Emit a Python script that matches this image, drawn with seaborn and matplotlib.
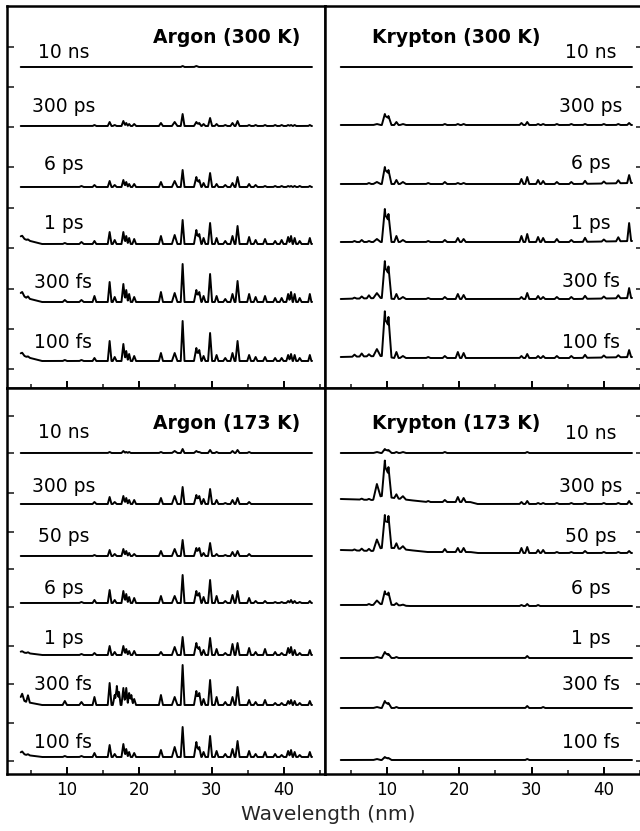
import numpy as np
import pandas as pd
import matplotlib
matplotlib.use("Agg")
import matplotlib.pyplot as plt
from matplotlib.ticker import MultipleLocator
import seaborn as sns

# ---------------- data ----------------
# Argon harmonic line positions (nm) and half-widths (nm)
ar_pos = [3.8, 4.6, 9.7, 12.0, 13.8, 15.9, 16.6, 16.9, 17.2, 17.8, 18.2, 18.6, 18.9, 19.3,
          23.0, 24.9, 26.0, 27.9, 28.3, 28.9, 29.8, 30.7, 31.9, 32.9, 33.6, 35.2, 36.1,
          37.4, 38.8, 39.7, 40.6, 41.0, 41.5, 42.2, 43.6]
ar_wid = [0.3, 0.25, 0.3, 0.3, 0.26, 0.26, 0.26, 0.22, 0.22, 0.26, 0.22, 0.22, 0.22, 0.26,
          0.28, 0.38, 0.26, 0.33, 0.28, 0.25, 0.28, 0.25, 0.28, 0.28, 0.28, 0.26, 0.26,
          0.26, 0.26, 0.26, 0.25, 0.22, 0.22, 0.25, 0.22]

ar300_delays = ["100 fs", "300 fs", "1 ps", "6 ps", "300 ps", "10 ns"]
ar300_heights = [
    [2, 1, 1, 1, 3, 20, 4, 0, 0, 17, 10, 7, 0, 5, 8, 8, 40, 13, 11, 5, 28, 6, 3, 8, 20, 6, 4, 4, 3, 3, 6, 7, 6, 3, 6],
    [3, 2, 2, 2, 6, 20, 5, 0, 0, 18, 12, 8, 0, 5, 10, 9, 38, 12, 10, 6, 28, 6, 3, 8, 21, 8, 5, 6, 4, 4, 8, 10, 8, 4, 8],
    [2, 1, 1, 2, 3, 12, 4, 0, 0, 12, 8, 6, 0, 5, 8, 9, 24, 14, 10, 6, 21, 6, 3, 8, 18, 7, 4, 5, 3, 4, 7, 8, 6, 3, 6],
    [0, 0, 0, 1, 2, 6, 2, 0, 0, 7, 5, 3, 0, 3, 5, 6, 17, 10, 7, 4, 14, 3, 2, 4, 10, 3, 2, 1, 1, 1, 1, 1, 1, 1, 1],
    [0, 0, 0, 0, 1, 4, 1, 0, 0, 5, 3, 2, 0, 2, 3, 4, 12, 4, 3, 2, 8, 2, 1, 3, 5, 1, 1, 1, 1, 1, 1, 1, 1, 0, 1],
    [0, 0, 0, 0, 0, 0, 0, 0, 0, 0, 0, 0, 0, 0, 0, 0, 1, 1, 0, 0, 0, 0, 0, 0, 0, 0, 0, 0, 0, 0, 0, 0, 0, 0, 0],
]
ar300_offsets = [27, 86, 144, 201, 262, 321]
ar300_label_y = [46, 106, 165, 224, 282, 336]
ar_base_x = [3.6, 4.4, 6.5, 44.0]
ar300_base = [[7, 4, 0, 0], [8, 4, 0, 0], [7, 4, 0, 0], [0, 0, 0, 0], [0, 0, 0, 0], [0, 0, 0, 0]]

ar173_delays = ["100 fs", "300 fs", "1 ps", "6 ps", "50 ps", "300 ps", "10 ns"]
ar173_heights = [
    [2, 1, 1, 1, 4, 12, 3, 0, 0, 13, 8, 5, 0, 4, 7, 10, 30, 15, 10, 5, 21, 6, 3, 8, 16, 6, 3, 5, 3, 2, 6, 7, 5, 2, 5],
    [6, 7, 4, 3, 8, 22, 10, 19, 13, 17, 17, 12, 10, 6, 10, 8, 40, 14, 12, 6, 25, 8, 3, 8, 18, 5, 3, 5, 2, 2, 4, 5, 4, 2, 4],
    [1, 1, 0, 1, 2, 9, 3, 0, 0, 9, 6, 4, 0, 4, 3, 8, 18, 12, 8, 5, 17, 6, 2, 11, 12, 7, 3, 6, 3, 2, 7, 8, 5, 2, 5],
    [0, 0, 0, 1, 3, 13, 3, 0, 0, 12, 9, 6, 0, 5, 7, 7, 28, 12, 10, 6, 23, 7, 2, 8, 12, 5, 2, 2, 1, 1, 2, 3, 2, 1, 2],
    [0, 0, 0, 0, 1, 6, 2, 0, 0, 7, 5, 3, 0, 2, 5, 7, 16, 8, 8, 3, 13, 2, 1, 4, 5, 2, 0, 0, 0, 0, 0, 0, 0, 0, 0],
    [0, 0, 0, 0, 2, 7, 2, 0, 0, 8, 6, 4, 0, 4, 6, 8, 17, 9, 8, 5, 15, 4, 1, 4, 6, 2, 0, 0, 0, 0, 0, 0, 0, 0, 0],
    [0, 0, 0, 0, 0, 1, 0, 0, 0, 2, 1, 1, 0, 0, 1, 2, 4, 2, 1, 0, 3, 1, 0, 2, 3, 1, 0, 0, 0, 0, 0, 0, 0, 0, 0],
]
ar173_offsets = [17, 69, 119, 171, 218, 270, 321]
ar173_label_y = [32, 89, 136, 186, 237, 288, 342]
ar173_base = [[4, 2, 0, 0], [6, 3, 0, 0], [3, 2, 0, 0], [0, 0, 0, 0], [0, 0, 0, 0], [0, 0, 0, 0], [0, 0, 0, 0]]

# Krypton line positions (nm) and half-widths (nm)
kr_pos = [5.5, 6.5, 7.5, 8.6, 9.7, 10.2, 11.3, 12.2, 15.7, 18.0, 19.8, 20.6, 28.6, 29.4,
          30.9, 31.6, 33.5, 35.5, 37.4, 40.0, 42.0, 43.5]
kr_wid = [0.3, 0.3, 0.3, 0.5, 0.42, 0.42, 0.3, 0.4, 0.3, 0.3, 0.3, 0.3, 0.27, 0.27,
          0.27, 0.27, 0.3, 0.3, 0.3, 0.3, 0.3, 0.27]

kr300_delays = ["100 fs", "300 fs", "1 ps", "6 ps", "300 ps", "10 ns"]
kr300_heights = [
    [2, 3, 2, 7, 45, 40, 6, 2, 1, 2, 6, 5, 2, 4, 2, 2, 2, 2, 3, 2, 2, 7],
    [1, 2, 3, 5, 37, 32, 5, 2, 1, 2, 5, 4, 2, 6, 3, 2, 2, 2, 3, 2, 3, 10],
    [1, 2, 1, 3, 33, 28, 6, 2, 1, 2, 4, 3, 6, 8, 5, 4, 3, 2, 4, 2, 4, 18],
    [0, 0, 1, 2, 17, 14, 4, 2, 1, 2, 1, 1, 5, 7, 4, 3, 2, 2, 3, 2, 3, 8],
    [0, 0, 0, 1, 11, 9, 3, 1, 0, 1, 1, 1, 2, 3, 1, 1, 1, 1, 1, 1, 1, 2],
    [0] * 22,
]
kr300_offsets = [29, 88, 145, 204, 263, 321]
kr300_label_y = [46, 107, 165, 225, 282, 336]
kr300_base_x = [3.6, 9.0, 9.5, 11.0, 36.0, 44.0]
kr300_base = [[2, 3, 3, 1, 1, 2], [1, 2, 2, 1, 1, 2], [1, 1, 1, 1, 1, 2],
              [0, 0, 0, 0, 0, 1], [0, 0, 0, 0, 0, 0], [0, 0, 0, 0, 0, 0]]

kr173_delays = ["100 fs", "300 fs", "1 ps", "6 ps", "50 ps", "300 ps", "10 ns"]
kr173_heights = [
    [0, 0, 0, 1, 3, 2, 0, 0, 0, 0, 0, 0, 0, 1, 0, 0, 0, 0, 0, 0, 0, 0],
    [0, 0, 0, 1, 7, 5, 1, 0, 0, 0, 0, 0, 0, 2, 0, 1, 0, 0, 0, 0, 0, 0],
    [0, 0, 0, 1, 6, 4, 1, 0, 0, 0, 0, 0, 0, 2, 0, 0, 0, 0, 0, 0, 0, 0],
    [0, 0, 1, 4, 13, 12, 2, 1, 0, 0, 0, 0, 1, 2, 1, 0, 0, 0, 0, 0, 0, 0],
    [1, 2, 2, 10, 33, 32, 5, 3, 0, 3, 4, 4, 5, 6, 3, 3, 1, 1, 2, 1, 1, 2],
    [0, 1, 1, 14, 36, 30, 4, 3, 1, 2, 5, 4, 2, 3, 1, 1, 1, 1, 1, 1, 1, 3],
    [0, 0, 0, 1, 4, 3, 1, 1, 0, 1, 0, 0, 0, 1, 0, 0, 0, 0, 0, 0, 0, 0],
]
kr173_offsets = [14, 66, 116, 168, 221, 270, 321]
kr173_label_y = [31, 89, 136, 186, 237, 288, 341]
kr173_base_x = [3.6, 8.0, 9.2, 11.0, 13.0, 15.5, 21.5, 22.5, 44.0]
kr173_base = [[0] * 9, [0] * 9, [0] * 9,
              [1, 1, 2, 1, 0, 0, 0, 0, 0],
              [3, 2, 5, 5, 3, 1, 1, 0, 0],
              [5, 4, 8, 6, 4, 2, 2, 0, 0],
              [0] * 9]

titles = ["Argon (300 K)", "Krypton (300 K)", "Argon (173 K)", "Krypton (173 K)"]
x_ticks = [10, 20, 30, 40]
top_yticks = [19, 59, 99, 140, 180, 221, 261, 301, 341]
bot_yticks = [13, 51, 90, 128, 167, 205, 242, 281, 321, 358]

# ---------------- drawing ----------------
sns.set_style("white")
plt.rcParams["font.family"] = ["DejaVu Sans"]

grid = np.arange(3.6, 43.92, 0.02)


def spectrum(pos, wid, heights, bx, bv):
    y = np.interp(grid, bx, bv).astype(float)
    for p, w, h in zip(pos, wid, heights):
        if h:
            y += h * np.clip(1 - np.abs(grid - p) / w, 0, None)
    return y


def build(pos, wid, delays, heights, offsets, bx, base):
    frames = []
    for d, h, off, b in zip(delays, heights, offsets, base):
        frames.append(pd.DataFrame({"wl": grid,
                                    "y": spectrum(pos, wid, h, bx, b) + off,
                                    "delay": d}))
    return pd.concat(frames, ignore_index=True)


fig = plt.figure(figsize=(6.4, 8.31), dpi=100)
W, H = 640.0, 831.0
ax_tl = fig.add_axes([7 / W, 1 - 388 / H, 318 / W, 382 / H])
ax_tr = fig.add_axes([325 / W, 1 - 388 / H, 318 / W, 382 / H])
ax_bl = fig.add_axes([7 / W, 1 - 774 / H, 318 / W, 386 / H])
ax_br = fig.add_axes([325 / W, 1 - 774 / H, 318 / W, 386 / H])

panels = [
    (ax_tl, build(ar_pos, ar_wid, ar300_delays, ar300_heights, ar300_offsets, ar_base_x, ar300_base),
     ar300_delays, ar300_label_y, "left", (0, 382), top_yticks, titles[0]),
    (ax_tr, build(kr_pos, kr_wid, kr300_delays, kr300_heights, kr300_offsets, kr300_base_x, kr300_base),
     kr300_delays, kr300_label_y, "right", (0, 382), top_yticks, titles[1]),
    (ax_bl, build(ar_pos, ar_wid, ar173_delays, ar173_heights, ar173_offsets, ar_base_x, ar173_base),
     ar173_delays, ar173_label_y, "left", (0, 386), bot_yticks, titles[2]),
    (ax_br, build(kr_pos, kr_wid, kr173_delays, kr173_heights, kr173_offsets, kr173_base_x, kr173_base),
     kr173_delays, kr173_label_y, "right", (0, 386), bot_yticks, titles[3]),
]

for i, (ax, df, delays, label_y, side, ylim, yticks, title) in enumerate(panels):
    sns.lineplot(data=df, x="wl", y="y", units="delay", estimator=None, sort=False,
                 color="black", linewidth=1.4, ax=ax, legend=False)
    if side == "left":
        ax.set_xlim(1.70, 45.70)
        lx = 9.5
        tx = 32.1
    else:
        ax.set_xlim(1.42, 45.42)
        lx = 38.2
        tx = 19.55
    ax.set_ylim(*ylim)
    for d, ly in zip(delays, label_y):
        ax.text(lx, ly, d, ha="center", va="center", fontsize=13.5, color="black")
    ax.text(tx, 351, title, ha="center", va="center", fontsize=13.5,
            fontweight="bold", color="black")

    ax.xaxis.set_major_locator(MultipleLocator(10))
    ax.xaxis.set_minor_locator(MultipleLocator(5))
    ax.set_xticks(x_ticks)
    ax.set_yticks(yticks)
    ax.set_xlabel("")
    ax.set_ylabel("")
    ax.tick_params(axis="x", which="major", direction="in", length=5, width=1.4,
                   bottom=True, top=False, labelsize=12, pad=5, colors="black")
    ax.tick_params(axis="x", which="minor", direction="in", length=3, width=1.2,
                   bottom=True, top=False)
    if i < 2:
        ax.tick_params(axis="x", which="both", labelbottom=False)
    if side == "left":
        ax.tick_params(axis="y", which="both", direction="in", length=5, width=1.2,
                       left=True, right=False, labelleft=False)
    else:
        ax.tick_params(axis="y", which="both", direction="in", length=5, width=1.2,
                       left=False, right=True, labelleft=False, labelright=False)
    for s in ax.spines.values():
        s.set_visible(True)
        s.set_linewidth(1.8)
        s.set_color("black")
    ax.set_facecolor("white")

fig.text(328 / W, 1 - 815 / H, "Wavelength (nm)", ha="center", va="center", fontsize=14.5)

fig.savefig("out.png", dpi=100, facecolor="white")
